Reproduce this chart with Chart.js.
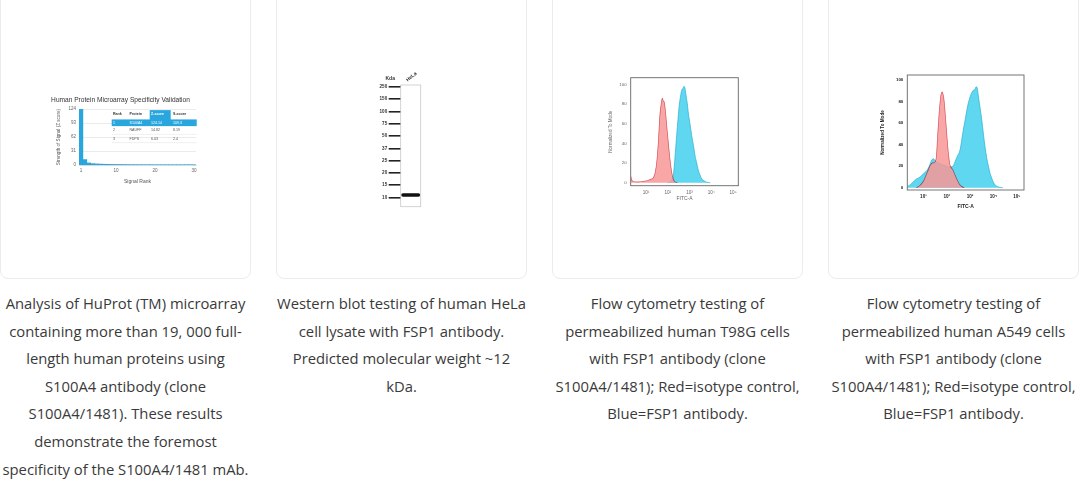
<!DOCTYPE html>
<html>
<head>
<meta charset="utf-8">
<script src="https://cdn.jsdelivr.net/npm/chart.js@4.4.0/dist/chart.umd.min.js"></script>
<style>
  html, body { margin: 0; padding: 0; background: #fff; }
  body { width: 1080px; height: 487px; position: relative; overflow: hidden; }
  .card { position: absolute; top: -10px; width: 251px; height: 289px; border: 1px solid #ececec; border-radius: 8px; box-sizing: border-box; }
  .caption { position: absolute; top: 290px; width: 251px; text-align: center; font-family: "Open Sans", sans-serif; font-size: 14.8px; line-height: 27.6px; color: #3a3a3a; white-space: nowrap; }
  canvas { position: absolute; }
</style>
</head>
<body>
<div class="card" style="left:0px"></div>
<div class="card" style="left:276px"></div>
<div class="card" style="left:552px"></div>
<div class="card" style="left:828px"></div>

<div class="caption" style="left:0px">Analysis of HuProt (TM) microarray<br>containing more than 19, 000 full-<br>length human proteins using<br>S100A4 antibody (clone<br>S100A4/1481). These results<br>demonstrate the foremost<br>specificity of the S100A4/1481 mAb.</div>
<div class="caption" style="left:276px">Western blot testing of human HeLa<br>cell lysate with FSP1 antibody.<br>Predicted molecular weight ~12<br>kDa.</div>
<div class="caption" style="left:552px">Flow cytometry testing of<br>permeabilized human T98G cells<br>with FSP1 antibody (clone<br>S100A4/1481); Red=isotype control,<br>Blue=FSP1 antibody.</div>
<div class="caption" style="left:828px">Flow cytometry testing of<br>permeabilized human A549 cells<br>with FSP1 antibody (clone<br>S100A4/1481); Red=isotype control,<br>Blue=FSP1 antibody.</div>

<canvas id="arrayChart" width="160" height="95" style="left:45px;top:90px"></canvas>
<canvas id="blotChart" width="70" height="145" style="left:360px;top:68px"></canvas>
<canvas id="flowT98G" width="150" height="140" style="left:598px;top:70px"></canvas>
<canvas id="flowA549" width="160" height="150" style="left:870px;top:65px"></canvas>

<script>
// Microarray: signal strength by rank
const ranks = [1, 2, 3, 4, 5, 6, 7, 8, 9, 10, 11, 12, 13, 14, 15, 16, 17, 18, 19, 20, 21, 22, 23, 24, 25, 26, 27, 28, 29, 30];
const zScores = [124.14, 12, 4.5, 3, 2.4, 2, 1.7, 1.5, 1.3, 1.2, 1.1, 1.0, 0.9, 0.9, 0.8, 0.8, 0.7, 0.7, 0.7, 0.6, 0.6, 0.6, 0.5, 0.5, 0.5, 0.5, 0.4, 0.4, 0.4, 0.4];
const zTicks = [0, 31, 62, 93, 124];
const rankTicks = [1, 10, 20, 30];
const tableHeader = ['Rank', 'Protein', 'Z-score', 'S-score'];
const tableRank = ['1', '2', '3'];
const tableProtein = ['S100A4', 'NAUFF', 'FDPS'];
const tableZ = ['124.14', '14.82', '6.03'];
const tableS = ['109.3', '8.19', '2.4'];

// Western blot
const markerKda = ['250', '150', '100', '75', '50', '37', '25', '20', '15', '10'];
const laneNames = ['HeLa'];
const bandSpan = [8.66, 8.95]; // between the 15 and 10 kDa markers

// Flow cytometry, x in decades (log10 FITC-A), y in % of mode
const decadeTicks = [1, 2, 3, 4, 5];
const modeTicks = [0, 20, 40, 60, 80, 100];

const t98gRedX = [0.30, 0.33, 0.40, 0.55, 0.75, 0.95, 1.10, 1.25, 1.34, 1.42, 1.49, 1.57, 1.64, 1.70, 1.75, 1.80, 1.84, 1.90, 1.95, 2.01, 2.07, 2.13, 2.18, 2.25, 2.33, 2.45];
const t98gRedY = [7, 4, 1.5, 0.8, 1, 1.6, 2.5, 3.8, 5, 10, 20, 42, 69, 80, 86, 83, 82, 72, 59, 45, 31, 19, 11, 4, 1, 0];
const t98gBlueX = [2.00, 2.10, 2.18, 2.26, 2.33, 2.41, 2.47, 2.53, 2.59, 2.64, 2.70, 2.75, 2.80, 2.84, 2.90, 2.94, 3.02, 3.10, 3.18, 3.25, 3.33, 3.40, 3.48, 3.56, 3.66, 3.79, 3.95];
const t98gBlueY = [0, 0.5, 3, 8, 25, 48, 64, 79, 88, 94, 96, 98, 95, 89, 80, 72, 60, 48, 38, 28, 20, 13, 8, 4, 2, 0.5, 0];

const a549RedX = [0.70, 0.85, 1.00, 1.10, 1.20, 1.30, 1.40, 1.50, 1.56, 1.60, 1.65, 1.70, 1.75, 1.80, 1.84, 1.88, 1.93, 1.98, 2.03, 2.08, 2.13, 2.18, 2.25, 2.35, 2.45, 2.55, 2.65, 2.75];
const a549RedY = [0, 2, 6, 11, 16, 21, 23, 24, 30, 45, 62, 76, 86, 89, 87, 82, 70, 56, 42, 30, 22, 19, 17, 12, 7, 3, 1, 0];
const a549BlueX = [0.31, 0.45, 0.57, 0.70, 0.86, 1.00, 1.15, 1.25, 1.36, 1.43, 1.50, 1.64, 1.75, 1.86, 1.97, 2.07, 2.21, 2.30, 2.36, 2.45, 2.57, 2.64, 2.71, 2.79, 2.86, 2.93, 3.00, 3.07, 3.14, 3.20, 3.26, 3.31, 3.36, 3.43, 3.50, 3.57, 3.64, 3.71, 3.79, 3.86, 3.93, 4.00, 4.07, 4.18, 4.29, 4.40];
const a549BlueY = [1, 3, 5.6, 8, 10, 13, 16, 20, 25.7, 27, 25, 23, 22, 21, 20.5, 19.5, 19.5, 21, 24.4, 29, 35, 44, 53.5, 63, 72, 79, 84.3, 88, 90.5, 91, 93.6, 92, 84, 74, 63, 50, 38, 28, 19.5, 13, 8.8, 5, 2.5, 1, 0.3, 0];

Chart.defaults.font.family = '"Liberation Sans", Arial, sans-serif';
Chart.defaults.animation = false;
Chart.defaults.plugins.legend.display = false;
Chart.defaults.plugins.tooltip.enabled = false;

const setTicks = (vals) => (scale) => { scale.ticks = vals.map(v => ({ value: v })); };
const pts = (xs, ys) => xs.map((x, i) => ({ x: x, y: ys[i] }));
const sup = ['\u2070', '\u00b9', '\u00b2', '\u00b3', '\u2074', '\u2075'];

// frame around the plot area
const boxPlugin = {
  id: 'box',
  afterDraw(chart, args, opts) {
    if (!opts.color) return;
    const a = chart.chartArea, ctx = chart.ctx;
    ctx.save();
    ctx.strokeStyle = opts.color;
    ctx.lineWidth = opts.width || 1;
    ctx.strokeRect(a.left, a.top, a.right - a.left, a.bottom - a.top);
    ctx.restore();
  }
};

// red histogram blended over the blue one
const blendPlugin = {
  id: 'blend',
  beforeDatasetDraw(chart, args) {
    if (chart.data.datasets[args.index].multiply) {
      chart.ctx.save();
      chart.ctx.globalCompositeOperation = 'multiply';
    }
  },
  afterDatasetDraw(chart, args) {
    if (chart.data.datasets[args.index].multiply) chart.ctx.restore();
  }
};

// microarray result table drawn over the chart
const tablePlugin = {
  id: 'hitTable',
  afterDatasetsDraw(chart) {
    const ctx = chart.ctx, a = chart.chartArea;
    const left = a.left + 32.7, right = a.right + 0.7;
    const cols = [left + 1.3, left + 17.8, left + 39.3, left + 61.3];
    const headY = a.top + 5.3, rowY = [a.top + 13.7, a.top + 21, a.top + 29.7];
    ctx.save();
    ctx.fillStyle = '#29a6de';
    ctx.fillRect(left + 38, a.top + 1, 21, 11);
    ctx.fillRect(left, a.top + 10.3, right - left, 6.7);
    ctx.strokeStyle = '#e2e2e2';
    ctx.lineWidth = 0.5;
    [a.top + 25.3, a.top + 33.5].forEach(y => {
      ctx.beginPath(); ctx.moveTo(left, y); ctx.lineTo(right, y); ctx.stroke();
    });
    ctx.textBaseline = 'middle';
    ctx.font = 'bold 3.6px "Liberation Sans", Arial, sans-serif';
    tableHeader.forEach((t, i) => {
      ctx.fillStyle = i === 2 ? '#ffffff' : '#333333';
      ctx.fillText(t, cols[i], headY);
    });
    ctx.font = '3.6px "Liberation Sans", Arial, sans-serif';
    tableRank.forEach((r, j) => {
      ctx.fillStyle = j === 0 ? '#ffffff' : '#555555';
      [r, tableProtein[j], tableZ[j], tableS[j]].forEach((t, i) => ctx.fillText(t, cols[i], rowY[j]));
    });
    ctx.restore();
  }
};

new Chart(document.getElementById('arrayChart'), {
  type: 'bar',
  data: {
    datasets: [{
      data: pts(ranks, zScores),
      backgroundColor: '#2aa6de',
      barPercentage: 1,
      categoryPercentage: 1
    }]
  },
  options: {
    responsive: false,
    layout: { padding: { right: 9 } },
    plugins: {
      title: {
        display: true,
        text: 'Human Protein Microarray Specificity Validation',
        color: '#333',
        font: { size: 6.6, weight: 'normal' },
        padding: { top: 6, bottom: 5.2 }
      }
    },
    scales: {
      x: {
        type: 'linear', min: 0.5, max: 30.5, offset: false,
        afterBuildTicks: setTicks(rankTicks),
        afterFit: (s) => { s.height = 20; },
        grid: { display: false, drawTicks: false, tickLength: 0 },
        border: { display: true, color: '#cccccc', width: 0.6 },
        ticks: { color: '#666', font: { size: 4.6 }, padding: 3 },
        title: { display: true, text: 'Signal Rank', color: '#555', font: { size: 5 }, padding: { top: 3, bottom: 0 } }
      },
      y: {
        min: 0, max: 124,
        afterBuildTicks: setTicks(zTicks),
        afterFit: (s) => { s.width = 34; },
        grid: { color: '#dddddd', lineWidth: 0.6, drawTicks: false, tickLength: 0 },
        border: { display: false },
        ticks: { color: '#666', font: { size: 4.5 }, padding: 3 },
        title: { display: true, text: 'Strength of Signal (Z score)', color: '#555', font: { size: 4.6 }, padding: { top: 11, bottom: 0 } }
      }
    }
  },
  plugins: [tablePlugin]
});

new Chart(document.getElementById('blotChart'), {
  type: 'bar',
  data: {
    labels: laneNames,
    datasets: [{
      data: [bandSpan],
      backgroundColor: '#111111',
      borderRadius: 2,
      borderSkipped: false,
      barPercentage: 0.95,
      categoryPercentage: 1
    }]
  },
  options: {
    responsive: false,
    layout: { padding: { right: 9.3, bottom: 6.3 } },
    plugins: { box: { color: '#c8c8c8', width: 0.8 } },
    scales: {
      x: {
        position: 'top',
        afterFit: (s) => { s.height = 17; },
        grid: { display: false, drawTicks: false, tickLength: 0 },
        border: { display: false },
        ticks: { color: '#333', font: { size: 5, weight: 'bold' }, minRotation: 40, maxRotation: 40, padding: 2 }
      },
      y: {
        reverse: true, min: -0.16, max: 9.76,
        afterBuildTicks: setTicks(markerKda.map((m, i) => i)),
        afterFit: (s) => { s.width = 40.7; },
        grid: { drawOnChartArea: false, tickLength: 12, color: '#222', lineWidth: 1.6 },
        border: { display: false },
        ticks: { color: '#333', font: { size: 4.6, weight: 'bold' }, padding: 1.5, callback: (v) => markerKda[v] }
      }
    }
  },
  plugins: [boxPlugin, {
    id: 'kdaLabel',
    afterDraw(chart) {
      const ctx = chart.ctx;
      ctx.save();
      ctx.font = 'bold 5px "Liberation Sans", Arial, sans-serif';
      ctx.fillStyle = '#333';
      ctx.textAlign = 'center';
      ctx.textBaseline = 'middle';
      ctx.fillText('Kda', chart.chartArea.left - 10.5, chart.chartArea.top - 6);
      ctx.restore();
    }
  }]
});

function flowChart(id, redX, redY, blueX, blueY, xr, yr, yW, xH, pad, bold) {
  const tcol = bold ? '#222' : '#666';
  const w = bold ? 'bold' : 'normal';
  return new Chart(document.getElementById(id), {
    type: 'line',
    data: {
      datasets: [
        { data: pts(redX, redY), fill: 'origin', backgroundColor: 'rgba(248,150,150,0.85)', borderColor: 'rgba(214,80,90,0.9)', borderWidth: 0.7, pointRadius: 0, cubicInterpolationMode: 'monotone', multiply: true, order: 0 },
        { data: pts(blueX, blueY), fill: 'origin', backgroundColor: 'rgba(96,215,240,1)', borderColor: 'rgba(40,176,206,1)', borderWidth: 0.7, pointRadius: 0, cubicInterpolationMode: 'monotone', order: 1 }
      ]
    },
    options: {
      responsive: false,
      layout: { padding: pad },
      plugins: { box: { color: '#666', width: 0.9 } },
      scales: {
        x: {
          type: 'linear', min: xr[0], max: xr[1],
          afterBuildTicks: setTicks(decadeTicks),
          afterFit: (s) => { s.height = xH; },
          grid: { display: false, drawTicks: false, tickLength: 0 },
          border: { display: false },
          ticks: { color: tcol, font: { size: 4.6, weight: w }, padding: 4, callback: (v) => '10' + sup[v] },
          title: { display: true, text: 'FITC-A', color: tcol, font: { size: 5, weight: w }, padding: { top: 0, bottom: 0 } }
        },
        y: {
          min: yr[0], max: yr[1],
          afterBuildTicks: setTicks(modeTicks),
          afterFit: (s) => { s.width = yW; },
          grid: { display: false, drawTicks: false, tickLength: 0 },
          border: { display: false },
          ticks: { color: tcol, font: { size: 4.4, weight: w }, padding: 4 },
          title: { display: true, text: 'Normalized To Mode', color: tcol, font: { size: 4.6, weight: w }, padding: { top: 10, bottom: 0 } }
        }
      }
    },
    plugins: [boxPlugin, blendPlugin]
  });
}

flowChart('flowT98G', t98gRedX, t98gRedY, t98gBlueX, t98gBlueY, [0.30, 5.24], [-3, 106.8], 32.7, 16, { top: 7.7, right: 9.7, bottom: 8.3 }, false);
flowChart('flowA549', a549RedX, a549RedY, a549BlueX, a549BlueY, [0.31, 5.31], [-2.1, 104.6], 37.3, 20, { top: 10, right: 6, bottom: 5 }, true);
</script>
</body>
</html>
